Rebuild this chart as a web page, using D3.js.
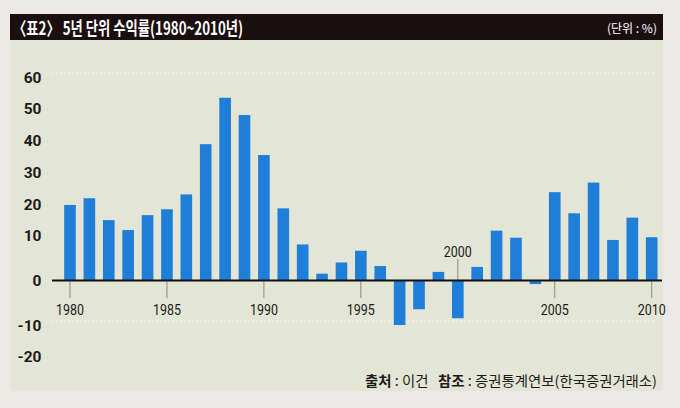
<!DOCTYPE html>
<html>
<head>
<meta charset="utf-8">
<script src="https://cdn.jsdelivr.net/npm/d3@7/dist/d3.min.js"></script>
<style>
  html, body { margin: 0; padding: 0; background: #ece8e7; }
  svg { display: block; }
</style>
</head>
<body>
<svg id="chart" width="680" height="408"></svg>
<script>
// ---- data ----
const years = [1980, 1981, 1982, 1983, 1984, 1985, 1986, 1987, 1988, 1989, 1990,
               1991, 1992, 1993, 1994, 1995, 1996, 1997, 1998, 1999, 2000,
               2001, 2002, 2003, 2004, 2005, 2006, 2007, 2008, 2009, 2010];
const returns = [19.7, 21.8, 14.8, 11.6, 16.4, 18.3, 23.0, 38.7, 53.3, 47.8, 35.3,
                 18.6, 7.9, 1.4, 3.9, 6.5, 3.1, -10.0, -6.5, 1.8, -8.5,
                 2.9, 11.4, 9.4, -0.9, 23.7, 17.0, 26.7, 8.9, 15.6, 9.5];
const yTicks = [-20, -10, 0, 10, 20, 30, 40, 50, 60];
const xTickYears = [1980, 1985, 1990, 1995, 2000, 2005, 2010];
const titleText = "〈표2〉 5년 단위 수익률(1980~2010년)";
const unitText = "(단위 : %)";

const svg = d3.select("#chart");
const CJK = "'Noto Sans CJK KR', 'Noto Sans', sans-serif";

// page + panel
svg.append("rect").attr("x", 10).attr("y", 40).attr("width", 653).attr("height", 351)
  .attr("fill", "#e3e6d6");
svg.append("rect").attr("x", 10).attr("y", 14).attr("width", 653).attr("height", 26)
  .attr("fill", "#1b0e0f");

// title
svg.append("text").attr("x", 13).attr("y", 34.5)
  .attr("font-family", CJK).attr("font-weight", 700).attr("font-size", 18)
  .attr("fill", "#ffffff")
  .attr("textLength", 230).attr("lengthAdjust", "spacingAndGlyphs")
  .text(titleText);
svg.append("text").attr("x", 657).attr("y", 33)
  .attr("text-anchor", "end")
  .attr("font-family", CJK).attr("font-size", 12)
  .attr("fill", "#ffffff")
  .attr("textLength", 50).attr("lengthAdjust", "spacingAndGlyphs")
  .text(unitText);

// scales (axis labels are not evenly spaced in the original, so a multi-stop linear scale)
const y = d3.scaleLinear()
  .domain(yTicks)
  .range([356, 325, 280, 235, 204, 172, 140, 108, 77]);
const x = d3.scaleBand()
  .domain(years)
  .range([60.3, 661.4])
  .paddingInner(0.4)
  .paddingOuter(0.2);

// faint dotted guide lines
svg.append("g").selectAll("line").data([60, -10]).join("line")
  .attr("x1", 52).attr("x2", 655)
  .attr("y1", d => y(d) - 4).attr("y2", d => y(d) - 4)
  .attr("stroke", "#f4f6ee").attr("stroke-width", 1)
  .attr("stroke-dasharray", "2,2");

// y labels
svg.append("g").selectAll("text").data(yTicks).join("text")
  .attr("x", 41.5).attr("y", d => y(d))
  .attr("dy", "0.36em")
  .attr("text-anchor", "end")
  .attr("font-family", "Roboto, 'Liberation Sans', sans-serif")
  .attr("font-weight", 700).attr("font-size", 15.5)
  .attr("fill", "#1e1a18")
  .text(d => d);

// bars
svg.append("g").selectAll("rect").data(years).join("rect")
  .attr("x", d => x(d))
  .attr("width", x.bandwidth())
  .attr("y", (d, i) => Math.min(y(returns[i]), y(0)))
  .attr("height", (d, i) => Math.abs(y(returns[i]) - y(0)))
  .attr("fill", "#1f7fd8");

// x ticks
const tickG = svg.append("g");
xTickYears.forEach(yr => {
  const cx = x(yr) + x.bandwidth() / 2;
  const up = yr === 2000;
  tickG.append("line")
    .attr("x1", cx).attr("x2", cx)
    .attr("y1", y(0)).attr("y2", up ? y(0) - 21 : y(0) + 18)
    .attr("stroke", "#8a8a86").attr("stroke-width", 1);
  tickG.append("text")
    .attr("x", cx).attr("y", up ? y(0) - 28 : y(0) + 30)
    .attr("dy", "0.36em")
    .attr("text-anchor", "middle")
    .attr("font-family", "Roboto, 'Liberation Sans', sans-serif")
    .attr("font-size", 15).attr("fill", "#1e1a18")
    .attr("textLength", 28).attr("lengthAdjust", "spacingAndGlyphs")
    .text(yr);
});

// zero line
svg.append("line")
  .attr("x1", 52).attr("x2", 662)
  .attr("y1", y(0) + 0.5).attr("y2", y(0) + 0.5)
  .attr("stroke", "#15100e").attr("stroke-width", 2);

// footer
const foot = svg.append("text").attr("x", 657).attr("y", 381)
  .attr("dy", "0.36em")
  .attr("text-anchor", "end")
  .attr("font-family", CJK).attr("font-size", 14)
  .attr("fill", "#1e1a18")
  .style("white-space", "pre")
  .attr("textLength", 292).attr("lengthAdjust", "spacingAndGlyphs");
foot.append("tspan").attr("font-weight", 700).text("출처");
foot.append("tspan").text(" : 이건   ");
foot.append("tspan").attr("font-weight", 700).text("참조");
foot.append("tspan").text(" : 증권통계연보(한국증권거래소)");
</script>
</body>
</html>
